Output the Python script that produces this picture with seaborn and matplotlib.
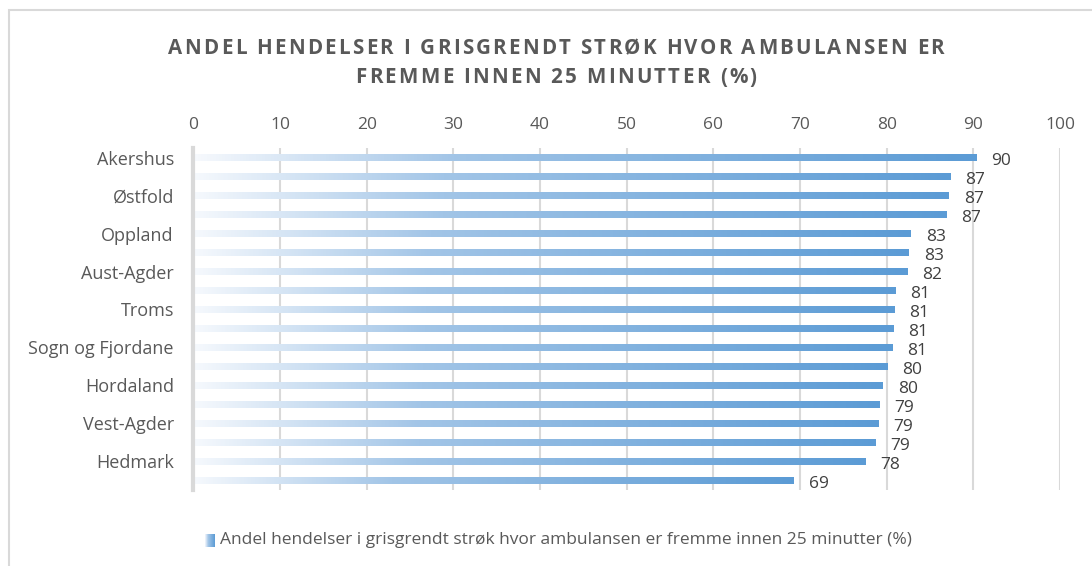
import numpy as np
import pandas as pd
import matplotlib.pyplot as plt
import seaborn as sns
from matplotlib.colors import LinearSegmentedColormap
from matplotlib.patches import Rectangle
from matplotlib.font_manager import FontProperties
from matplotlib.textpath import TextToPath

# data - only every second county name is shown on the axis
fylker = ["Akershus", "Vestfold", "Østfold", "Rogaland", "Oppland", "Buskerud",
          "Aust-Agder", "Telemark", "Troms", "Sør-Trøndelag", "Sogn og Fjordane",
          "Møre og Romsdal", "Hordaland", "Nord-Trøndelag", "Vest-Agder",
          "Nordland", "Hedmark", "Finnmark"]
andel = [90.4, 87.4, 87.2, 86.9, 82.8, 82.6, 82.4, 81.0, 80.9, 80.8, 80.7,
         80.1, 79.6, 79.2, 79.1, 78.7, 77.6, 69.3]
x_ticks = [0, 10, 20, 30, 40, 50, 60, 70, 80, 90, 100]

title_lines = ["ANDEL HENDELSER I GRISGRENDT STRØK HVOR AMBULANSEN ER",
               "FREMME INNEN 25 MINUTTER (%)"]
serie = "Andel hendelser i grisgrendt strøk hvor ambulansen er fremme innen 25 minutter (%)"

df = pd.DataFrame({"fylke": fylker, "andel": andel})

sns.set_style("white")
plt.rcParams["font.family"] = ["Open Sans", "DejaVu Sans"]

grad = LinearSegmentedColormap.from_list(
    "bl", [(0.0, "#f6f9fd"), (0.33, "#a2c5e7"), (1.0, "#5b9bd5")])
gradient = np.linspace(0, 1, 256).reshape(1, -1)

W, H = 1092, 566
fig = plt.figure(figsize=(W / 100, H / 100), dpi=100)
ax = fig.add_axes([0.177, 0.1343, 0.7937, 0.6042])

sns.barplot(data=df, x="andel", y="fylke", orient="h", width=0.32,
            color="#5b9bd5", ax=ax)

# swap the flat bars for gradient fills
for p in ax.patches:
    x0, y0 = p.get_x(), p.get_y()
    w, h = p.get_width(), p.get_height()
    p.set_visible(False)
    ax.imshow(gradient, cmap=grad, extent=[x0, x0 + w, y0 + h, y0],
              aspect="auto", zorder=3, interpolation="bicubic")

for i, v in enumerate(andel):
    ax.text(v + 1.7, i + 0.17, f"{v:.0f}", va="center", ha="left",
            fontsize=12.5, color="#404040")

ax.set_xlim(0, 100)
ax.set_ylim(17.5, -0.5)
ax.set_xticks(x_ticks)
ax.xaxis.tick_top()
ax.tick_params(axis="x", length=0, pad=11, labelsize=12.5, labelcolor="#595959")
ax.set_yticks(range(len(fylker)))
ax.set_yticklabels([f if i % 2 == 0 else "" for i, f in enumerate(fylker)])
ax.tick_params(axis="y", length=0, pad=14, labelsize=13, labelcolor="#595959")
ax.set_xlabel("")
ax.set_ylabel("")

ax.set_axisbelow(True)
ax.xaxis.grid(True, color="#d9d9d9", lw=1.5)
for s in ["top", "right", "bottom"]:
    ax.spines[s].set_visible(False)
ax.spines["left"].set_color("#d9d9d9")
ax.spines["left"].set_linewidth(3)
ax.spines["left"].set_zorder(4)

# title with letter spacing, placed char by char on a common baseline
tprop = FontProperties(family="Open Sans", weight="bold", size=14.8)
t2p = TextToPath()


def txt_w(s):
    return t2p.get_text_width_height_descent(s, tprop, ismath=False)[0] * 100 / 72


first = title_lines[0]
spacing = (776 - txt_w(first)) / (len(first) - 1)
cx = 556
for line, base in zip(title_lines, [54, 83]):
    start = cx - (txt_w(line) + spacing * (len(line) - 1)) / 2
    for k, ch in enumerate(line):
        pre = txt_w(line[:k]) if k else 0
        fig.text((start + pre + k * spacing) / W, 1 - base / H, ch, ha="left",
                 va="baseline", fontproperties=tprop, color="#595959")

# legend: small gradient marker + text
lax = fig.add_axes([205 / W, 1 - 547 / H, 10 / W, 13 / H])
lax.imshow(gradient, cmap=grad, aspect="auto", extent=[0, 1, 0, 1])
lax.set_axis_off()
fig.text(220 / W, 1 - 540 / H, serie, ha="left", va="center",
         fontsize=12.5, color="#595959")

fig.patches.append(Rectangle((9 / W, -0.1), 1.2, 1.1 - 10 / H,
                             transform=fig.transFigure, fill=False,
                             edgecolor="#d9d9d9", lw=1.5))

fig.savefig("out.png", dpi=100)
